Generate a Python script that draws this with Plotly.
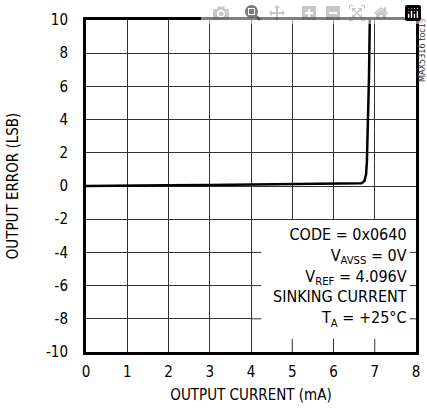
import plotly.graph_objects as go

# Data
current_ma = [0, 0.5, 1, 2, 3, 4, 5, 6, 6.5, 6.68, 6.75, 6.79, 6.81, 6.83, 6.86, 6.88]
error_lsb = [0, 0.02, 0.03, 0.05, 0.06, 0.08, 0.10, 0.12, 0.14, 0.16, 0.3, 0.7, 1.5, 3, 6.5, 10]
x_ticks = [0, 1, 2, 3, 4, 5, 6, 7, 8]
y_ticks = [-10, -8, -6, -4, -2, 0, 2, 4, 6, 8, 10]
y_tick_text = ["-10", "-8", "-6", "-4", "-2", "0", "2", "4", "6", "8", "10"]
note_lines = ["CODE = 0x0640", "V<sub>AVSS</sub> = 0V", "V<sub>REF</sub> = 4.096V",
              "SINKING CURRENT", "T<sub>A</sub> = +25°C"]

FONT = "DejaVu Sans Condensed, Liberation Sans Narrow, sans-serif"

fig = go.Figure()
fig.add_trace(go.Scatter(x=current_ma, y=error_lsb, mode="lines",
                         line=dict(color="black", width=2.5), showlegend=False))

# white box behind the note (covers gridlines)
fig.add_shape(type="rect", xref="x", yref="y", x0=4.03, x1=8, y0=-10, y1=-2.05,
              fillcolor="white", line=dict(width=0), layer="between")
# tick stubs on the box edges
for yv in [-4, -6, -8]:
    fig.add_shape(type="line", xref="x", yref="y", x0=4, x1=4.25, y0=yv, y1=yv,
                  line=dict(color="#333", width=1), layer="between")
    fig.add_shape(type="line", xref="x", yref="y", x0=7.85, x1=8, y0=yv, y1=yv,
                  line=dict(color="#333", width=1), layer="between")
for xv in [5, 6, 7]:
    fig.add_shape(type="line", xref="x", yref="y", x0=xv, x1=xv, y0=-10, y1=-9.2,
                  line=dict(color="#333", width=1), layer="between")

fig.add_annotation(xref="x", yref="y", x=7.82, y=-2.25, xanchor="right", yanchor="top",
                   text="<br>".join(note_lines), showarrow=False, align="right",
                   font=dict(family=FONT, size=16, color="black"))

fig.add_annotation(xref="paper", yref="paper", x=1.0, xshift=6, y=1.0, yshift=3,
                   xanchor="center", yanchor="top", borderpad=0,
                   text="MAX5316 toc19", textangle=-90, showarrow=False,
                   font=dict(family=FONT, size=9, color="#333"))

fig.update_xaxes(range=[0, 8], tickvals=x_ticks, showgrid=True, gridcolor="#333", gridwidth=1,
                 zeroline=False, showline=True, linecolor="black", linewidth=3, mirror=True,
                 ticks="", automargin=False, ticklabelstandoff=4,
                 tickfont=dict(family=FONT, size=15, color="black"),
                 title=dict(text="OUTPUT CURRENT (mA)", font=dict(family=FONT, size=15, color="black"),
                            standoff=10))
fig.update_yaxes(range=[-10, 10], tickvals=y_ticks, ticktext=y_tick_text, showgrid=True,
                 gridcolor="#333", gridwidth=1,
                 zeroline=False, showline=True, linecolor="black", linewidth=3, mirror=True,
                 ticks="", automargin=False, ticklabelstandoff=12,
                 tickfont=dict(family=FONT, size=15, color="black"),
                 title=dict(text="OUTPUT ERROR (LSB)", font=dict(family=FONT, size=15, color="black"),
                            standoff=24))

fig.update_layout(width=427, height=409, margin=dict(l=86, r=11, t=20, b=57),
                  plot_bgcolor="white", paper_bgcolor="white", font=dict(family=FONT))

# remove the default 8px page margin so the figure fills the window exactly
fig.write_html("out.html",
               post_script="document.body.style.margin='0';document.body.style.overflow='hidden';")
